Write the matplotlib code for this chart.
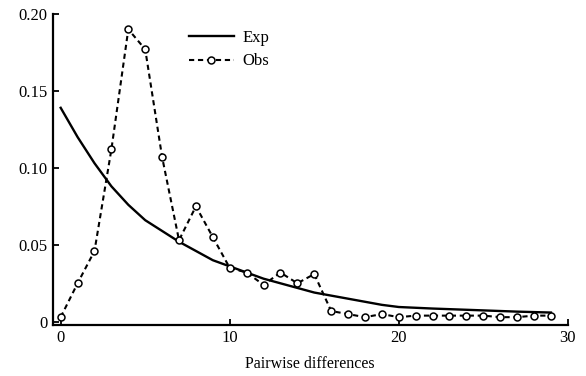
import matplotlib
matplotlib.use("Agg")
import matplotlib.pyplot as plt

# mismatch distribution: observed vs expected frequencies
diffs = list(range(30))
obs = [0.003, 0.025, 0.046, 0.112, 0.190, 0.177, 0.107, 0.053, 0.075, 0.055,
       0.035, 0.032, 0.024, 0.032, 0.025, 0.031, 0.007, 0.005, 0.003, 0.005,
       0.003, 0.004, 0.004, 0.004, 0.004, 0.004, 0.003, 0.003, 0.004, 0.004]
exp = [0.139, 0.120, 0.103, 0.088, 0.076, 0.066, 0.059, 0.052, 0.046, 0.040,
       0.036, 0.032, 0.028, 0.025, 0.022, 0.019, 0.017, 0.015, 0.013, 0.011,
       0.0096, 0.0091, 0.0086, 0.0082, 0.0078, 0.0074, 0.0070, 0.0066, 0.0063, 0.0060]
xticks = [0, 10, 20, 30]
yticks = [0, 0.05, 0.10, 0.15, 0.20]
ylabels = ["0", "0.05", "0.10", "0.15", "0.20"]

plt.rcParams['font.family'] = ['Liberation Serif', 'DejaVu Serif']
plt.rcParams['font.size'] = 12

fig = plt.figure(figsize=(5.86, 3.76), dpi=100)
ax = fig.add_axes([0.090, 0.136, 0.879, 0.827])

ax.plot(diffs, exp, color='black', lw=1.7, label='Exp')
ax.plot(diffs, obs, color='black', lw=1.5, ls=(0, (2.5, 1.8)), marker='o',
        markersize=5, markerfacecolor='white', markeredgewidth=1.1, label='Obs')

ax.set_xlim(-0.47, 30)
ax.set_ylim(-0.002, 0.2)
ax.set_xticks(xticks)
ax.set_yticks(yticks)
ax.set_yticklabels(ylabels)
ax.tick_params(direction='in', length=4, width=1.3, colors='black', labelsize=12, pad=4)
for side in ['top', 'right']:
    ax.spines[side].set_visible(False)
for side in ['left', 'bottom']:
    ax.spines[side].set_linewidth(1.6)

ax.set_xlabel("Pairwise differences", fontsize=11.5, labelpad=7)

ax.legend(loc='upper left', bbox_to_anchor=(0.235, 0.997), frameon=False,
          handlelength=2.7, fontsize=12, handletextpad=0.5, labelspacing=0.45)

fig.savefig("out.png", dpi=100)
